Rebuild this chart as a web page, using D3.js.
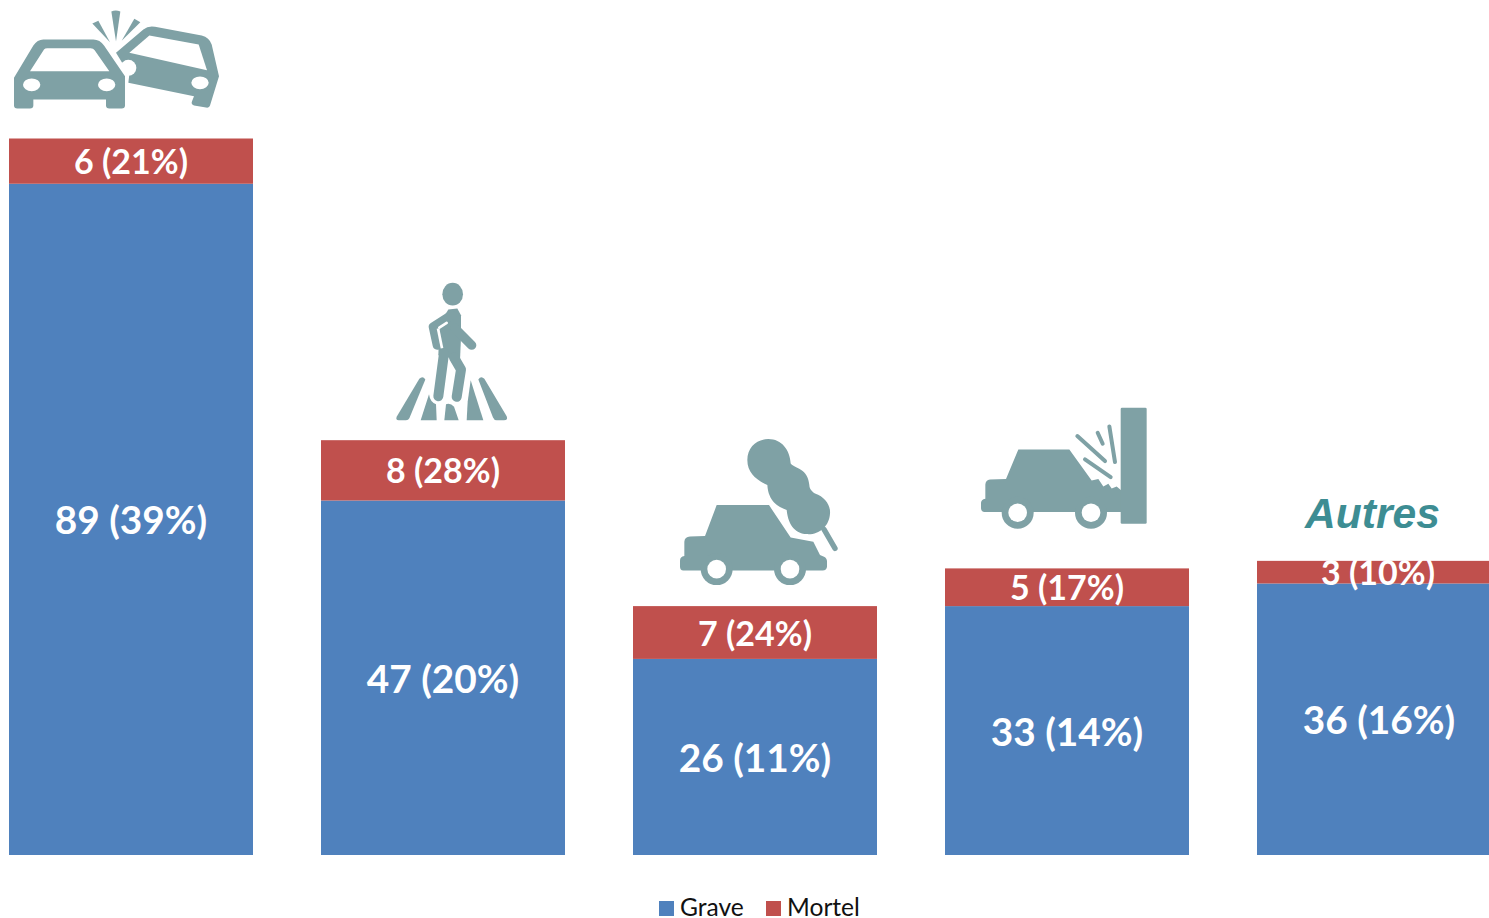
<!DOCTYPE html>
<html lang="fr">

<head>
    <title>Accidents</title>
    <meta charset="utf-8">
    <script src="https://d3js.org/d3.v7.min.js"></script>
    <style>
        html, body { margin: 0; padding: 0; background: #fff; overflow: hidden; }
        svg { display: block; }
        text { font-family: Lato, "Open Sans", sans-serif; }
    </style>
</head>

<body>
    <div id="container1"></div>
    <script>
        // Data
        const categories = ["Collision", "Pieton", "Fumee", "Mur", "Autres"];
        const graveValues = [89, 47, 26, 33, 36];
        const gravePct = [39, 20, 11, 14, 16];
        const mortelValues = [6, 8, 7, 5, 3];
        const mortelPct = [21, 28, 24, 17, 10];
        const seriesNames = ["Grave", "Mortel"];

        const colors = { Grave: "#4f81bd", Mortel: "#c0504d" };
        const iconColor = "#7fa1a5";

        const width = 1489;
        const height = 918;
        const baseline = 855;

        const svg = d3.select("#container1")
            .append("svg")
            .attr("width", width)
            .attr("height", height);

        // Scales: the last bar runs off the right edge of the page
        const x = d3.scaleBand()
            .domain(categories)
            .range([-25, 1535])
            .paddingInner(0.218)
            .paddingOuter(0.109);

        const y = d3.scaleLinear()
            .domain([0, 95])
            .range([baseline, 138.5]);

        // Stacked bars
        const rows = categories.map((c, i) => ({
            category: c,
            Grave: graveValues[i],
            Mortel: mortelValues[i],
            gravePct: gravePct[i],
            mortelPct: mortelPct[i]
        }));
        const stacked = d3.stack().keys(seriesNames)(rows);

        svg.selectAll("g.series")
            .data(stacked)
            .enter()
            .append("g")
            .attr("class", "series")
            .attr("fill", d => colors[d.key])
            .selectAll("rect")
            .data(d => d)
            .enter()
            .append("rect")
            .attr("x", d => x(d.data.category))
            .attr("y", d => y(d[1]))
            .attr("width", x.bandwidth())
            .attr("height", d => y(d[0]) - y(d[1]));

        // Value labels
        svg.selectAll("text.grave")
            .data(rows)
            .enter()
            .append("text")
            .attr("class", "grave")
            .attr("x", d => x(d.category) + x.bandwidth() / 2)
            .attr("y", d => y(d.Grave / 2) + 15)
            .attr("text-anchor", "middle")
            .attr("fill", "white")
            .attr("font-weight", 700)
            .style("font-size", "38.8px")
            .text(d => `${d.Grave} (${d.gravePct}%)`);

        svg.selectAll("text.mortel")
            .data(rows)
            .enter()
            .append("text")
            .attr("class", "mortel")
            .attr("x", d => x(d.category) + x.bandwidth() / 2 + (d.category === "Autres" ? -1 : 0))
            .attr("y", d => y(d.Grave + d.Mortel / 2) + 13)
            .attr("text-anchor", "middle")
            .attr("fill", "white")
            .attr("font-weight", 700)
            .style("font-size", "34px")
            .text(d => `${d.Mortel} (${d.mortelPct}%)`);

        // Pictograms, drawn at 3x and scaled down, placed from the top left of each bar
        function place(category, dx, dy) {
            const total = rows.find(r => r.category === category);
            return svg.append("g")
                .attr("transform", `translate(${x(category) + dx},${y(total.Grave + total.Mortel) + dy}) scale(${1 / 3})`)
                .attr("fill", iconColor);
        }

        function wheels(g, cy, xs) {
            xs.forEach(cx => {
                g.append("circle").attr("cx", cx).attr("cy", cy).attr("r", 48);
                g.append("circle").attr("cx", cx).attr("cy", cy).attr("r", 28).attr("fill", "white");
            });
        }

        function limb(g, d, w) {
            g.append("path").attr("d", d).attr("fill", "none")
                .attr("stroke", iconColor).attr("stroke-width", w)
                .attr("stroke-linecap", "round").attr("stroke-linejoin", "round");
        }

        // Collision
        const crash = place("Collision", -9, -139);
        crash.append("path").attr("d", "M348,160 L430,90 Q445,78 465,82 L605,108 Q628,114 635,135 L657,230 L630,318 Q628,326 618,324 L582,318 Q572,314 576,305 L582,290 L385,250 L388,225 Z");
        crash.append("circle").attr("cx", 385).attr("cy", 205).attr("r", 24).attr("fill", "white");
        crash.append("path").attr("d", "M388,160 L448,108 L596,135 L621,212 Z").attr("fill", "white");
        crash.append("ellipse").attr("cx", 600).attr("cy", 250).attr("rx", 26).attr("ry", 19).attr("fill", "white");
        crash.append("path").attr("d", "M42,318 L42,235 L100,138 Q112,120 130,120 L280,120 Q300,120 312,138 L375,230 L375,318 Q375,327 365,327 L328,327 Q318,327 318,318 L318,300 L100,300 L100,318 Q100,327 90,327 L52,327 Q42,327 42,318 Z")
            .attr("stroke", "white").attr("stroke-width", 8).attr("paint-order", "stroke");
        crash.append("path").attr("d", "M90,215 L132,150 Q135,146 142,146 L272,146 Q280,146 284,152 L328,215 Z").attr("fill", "white");
        crash.append("ellipse").attr("cx", 95).attr("cy", 256).attr("rx", 26).attr("ry", 19).attr("fill", "white");
        crash.append("ellipse").attr("cx", 320).attr("cy", 256).attr("rx", 26).attr("ry", 19).attr("fill", "white");
        crash.append("path").attr("d", "M334,36 Q347,30 361,36 L348,126 Z");
        crash.append("path").attr("d", "M277,72 L295,64 L330,128 Z");
        crash.append("path").attr("d", "M403,58 L421,68 L365,124 Z");

        // Pedestrian
        const walker = place("Pieton", 59, -170);
        walker.append("path").attr("d", "M50,440 L118,326 Q128,316 136,328 L88,444 Q85,450 78,450 L56,450 Q46,450 50,440 Z");
        walker.append("path").attr("d", "M122,450 L147,372 Q150,395 168,402 L170,450 Z");
        walker.append("path").attr("d", "M193,450 L198,402 Q212,398 222,410 L236,450 Z");
        walker.append("path").attr("d", "M260,450 L263,395 L272,330 L310,450 Z");
        walker.append("path").attr("d", "M295,328 Q303,316 313,326 L380,438 Q385,450 372,450 L350,450 Q342,450 339,442 Z");
        walker.append("ellipse").attr("cx", 218).attr("cy", 72).attr("rx", 31).attr("ry", 34);
        walker.append("path").attr("d", "M185,150 L205,118 L232,115 L243,135 L243,200 L240,270 L175,255 L178,170 Z");
        limb(walker, "M215,135 L160,170 L172,225", 28);
        limb(walker, "M225,175 L275,225", 28);
        limb(walker, "M192,250 L175,378", 30);
        limb(walker, "M222,262 L243,298 L230,380", 30);
        limb(walker, "M178,172 L200,158", 8);
        walker.selectAll("path").filter((d, i, n) => d3.select(n[i]).attr("stroke-width") === "8").attr("stroke", "white");
        walker.append("path").attr("d", "M174,175 L186,234").attr("fill", "none").attr("stroke", "white").attr("stroke-width", 8);

        // Car with smoke
        const smoke = place("Fumee", 37, -176);
        smoke.append("path").attr("d", "M140,225 L297,225 L362,322 L430,335 L450,375 L462,380 Q471,384 471,395 L471,410 Q470,421 458,421 L60,421 L40,421 Q30,421 30,410 L30,392 Q30,380 43,378 L43,335 Q44,320 60,319 L105,318 Z");
        wheels(smoke, 417, [140, 360]);
        smoke.append("path").attr("d", "M232,90 C232,50 262,27 295,27 C335,27 360,60 362,100 C375,115 415,115 418,165 C418,175 425,185 435,190 C465,200 482,225 480,250 C478,290 445,315 410,312 C380,312 355,290 350,240 C325,230 295,215 292,165 C260,150 232,130 232,90 Z");
        smoke.append("line").attr("x1", 462).attr("y1", 298).attr("x2", 495).attr("y2", 355)
            .attr("stroke", iconColor).attr("stroke-width", 16).attr("stroke-linecap", "round");

        // Car against a wall
        const wall = place("Mur", 25, -168);
        wall.append("path").attr("d", "M145,147 L298,147 L365,240 L385,236 L400,258 L415,250 L425,264 L440,258 L456,272 L470,335 L60,335 L44,335 Q33,335 33,322 L33,308 Q33,297 46,295 L46,252 Q47,238 60,237 L108,236 Z");
        wheels(wall, 337, [143, 363]);
        wall.append("rect").attr("x", 452).attr("y", 22).attr("width", 78).attr("height", 348).attr("rx", 4);
        [[322, 107, 405, 182], [345, 177, 422, 230], [383, 97, 398, 130], [418, 78, 435, 185]].forEach(r => {
            wall.append("line").attr("x1", r[0]).attr("y1", r[1]).attr("x2", r[2]).attr("y2", r[3])
                .attr("stroke", iconColor).attr("stroke-width", 12).attr("stroke-linecap", "round");
        });

        // Autres
        svg.append("text")
            .attr("x", 1305)
            .attr("y", 528)
            .attr("fill", "#3d8d93")
            .attr("font-weight", 700)
            .attr("font-style", "italic")
            .style("font-family", "'Liberation Sans', sans-serif")
            .style("font-size", "42.6px")
            .text("Autres");

        // Legend
        const legendX = d3.scaleOrdinal().domain(seriesNames).range([659, 766]);

        const legend = svg.selectAll("g.legend")
            .data(seriesNames)
            .enter()
            .append("g")
            .attr("class", "legend")
            .attr("transform", d => `translate(${legendX(d)},901)`);

        legend.append("rect")
            .attr("width", 15)
            .attr("height", 15)
            .attr("fill", d => colors[d]);

        legend.append("text")
            .attr("x", 21)
            .attr("y", 15)
            .attr("fill", "#111")
            .style("font-size", "24.6px")
            .text(d => d);
    </script>
</body>

</html>
